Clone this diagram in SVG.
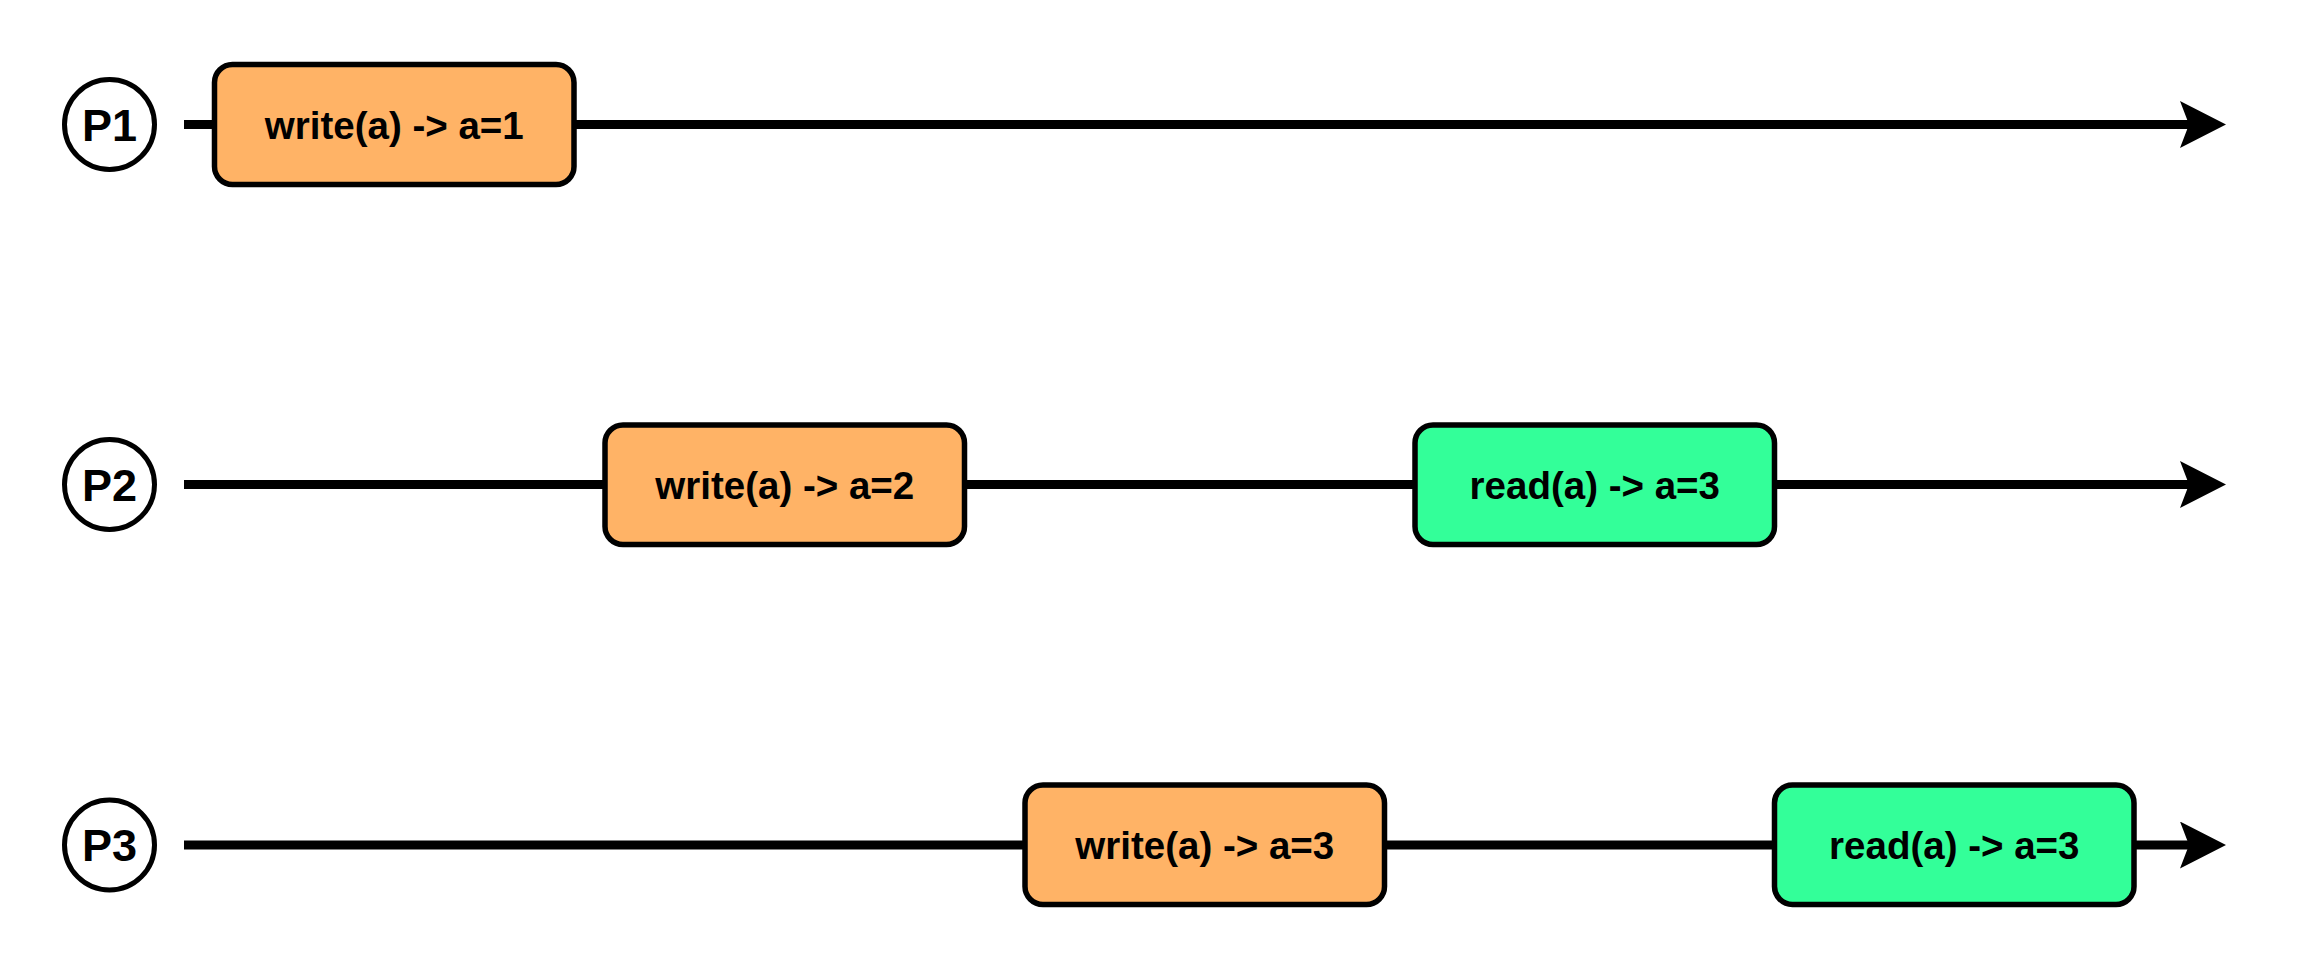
<svg xmlns="http://www.w3.org/2000/svg" width="2316" height="966" viewBox="0 0 2316 966">
<style>
.proc{fill:#ffffff;stroke:#000000;stroke-width:5}
.plabel{font-family:"Liberation Sans",Arial,sans-serif;font-weight:bold;font-size:45px;fill:#000000;text-anchor:middle}
.box{stroke:#000000;stroke-width:5.5}
.w{fill:#FFB366}
.r{fill:#33FF99}
.blabel{font-family:"Liberation Sans",Arial,sans-serif;font-weight:bold;font-size:38.5px;fill:#000000;text-anchor:middle}
.tl{fill:none;stroke:#000000;stroke-width:9}
</style>
<defs>
<marker id="arr" markerUnits="userSpaceOnUse" viewBox="0 0 46 47" refX="9" refY="23.5" markerWidth="46" markerHeight="47" orient="auto">
<path d="M0,0 L46,23.5 L0,47 L9,23.5 Z" fill="#000000"/>
</marker>
</defs>
<rect width="2316" height="966" fill="#ffffff"/>
<g id="connectors">
<line class="tl" x1="184" y1="124.5" x2="2189" y2="124.5" marker-end="url(#arr)"/>
<line class="tl" x1="184" y1="484.5" x2="2189" y2="484.5" marker-end="url(#arr)"/>
<line class="tl" x1="184" y1="845" x2="2189" y2="845" marker-end="url(#arr)"/>
</g>
<g id="P1">
<circle class="proc" cx="109.5" cy="124.5" r="45"/>
<text class="plabel" x="109.5" y="140.5">P1</text>
</g>
<g id="P2">
<circle class="proc" cx="109.5" cy="484.5" r="45"/>
<text class="plabel" x="109.5" y="500.5">P2</text>
</g>
<g id="P3">
<circle class="proc" cx="109.5" cy="845" r="45"/>
<text class="plabel" x="109.5" y="861">P3</text>
</g>
<g id="p1-write">
<rect class="box w" x="214.5" y="64.5" width="359.5" height="120" rx="18"/>
<text class="blabel" x="394.3" y="138.5">write(a) -&gt; a=1</text>
</g>
<g id="p2-write">
<rect class="box w" x="605" y="425" width="359.5" height="119.5" rx="18"/>
<text class="blabel" x="784.8" y="498.5">write(a) -&gt; a=2</text>
</g>
<g id="p2-read">
<rect class="box r" x="1415" y="425" width="359.5" height="119.5" rx="18"/>
<text class="blabel" x="1594.8" y="498.5">read(a) -&gt; a=3</text>
</g>
<g id="p3-write">
<rect class="box w" x="1025" y="785" width="359.5" height="119.5" rx="18"/>
<text class="blabel" x="1204.8" y="859">write(a) -&gt; a=3</text>
</g>
<g id="p3-read">
<rect class="box r" x="1774.5" y="785" width="359.5" height="119.5" rx="18"/>
<text class="blabel" x="1954.3" y="859">read(a) -&gt; a=3</text>
</g>
</svg>
